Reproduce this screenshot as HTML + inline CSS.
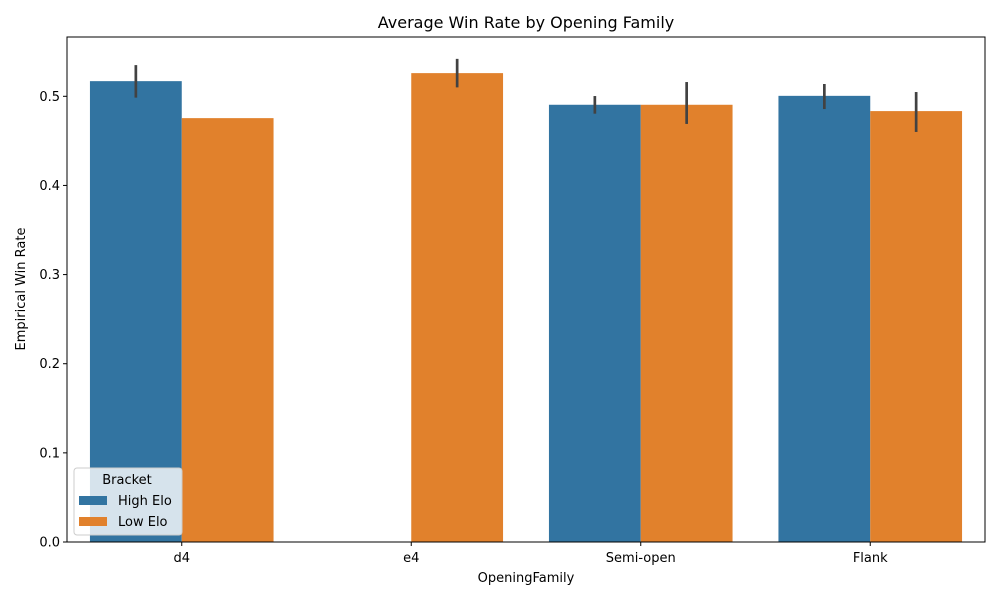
<!DOCTYPE html>
<html><head><meta charset="utf-8"><style>
body{margin:0;background:#fff;}
svg text{font-family:"DejaVu Sans","Liberation Sans",sans-serif;}
</style></head><body>
<svg id="chart" width="1000" height="600" xmlns="http://www.w3.org/2000/svg">
<rect width="1000" height="600" fill="#fff"/>
<g id="plot"></g>
<text x="526" y="28" font-size="16" text-anchor="middle" fill="#000">Average Win Rate by Opening Family</text>
<text x="526" y="582" font-size="13" text-anchor="middle" fill="#000">OpeningFamily</text>
<text x="25" y="289" font-size="13" text-anchor="middle" fill="#000" transform="rotate(-90 25 289)">Empirical Win Rate</text>
</svg>
<script>
const categories = ["d4","e4","Semi-open","Flank"];
const seriesNames = ["High Elo","Low Elo"];
const highVals = [0.517, null, 0.4905, 0.5005];
const lowVals  = [0.4755, 0.526, 0.4905, 0.4834];
const highLo = [0.4985, null, 0.4805, 0.4857];
const highHi = [0.535, null, 0.5003, 0.5138];
const lowLo  = [null, 0.510, 0.469, 0.460];
const lowHi  = [null, 0.542, 0.516, 0.5048];
const yTicks = [0.0,0.1,0.2,0.3,0.4,0.5];
const yTickLabels = ["0.0","0.1","0.2","0.3","0.4","0.5"];

const L=67, R=985, T=37, B=542;
const yScale = v => B - v*891.4;
const band = (R-L)/categories.length;
const xCenter = i => L + band*(i+0.5);
const barW = band*0.8/2;
const colors = ["#3274a1","#e1812c"];
const NS="http://www.w3.org/2000/svg";
const g=document.getElementById('plot');
function mk(tag,attrs){const e=document.createElementNS(NS,tag);for(const k in attrs)e.setAttribute(k,attrs[k]);g.appendChild(e);return e;}

const series=[[highVals,highLo,highHi],[lowVals,lowLo,lowHi]];
series.forEach((s,si)=>{
  s[0].forEach((v,i)=>{
    if(v==null) return;
    const x0 = xCenter(i) - barW + si*barW;
    const r=mk('rect',{x:x0,y:yScale(v),width:barW,height:B-yScale(v),fill:colors[si]});
    
    
  });
});
series.forEach((s,si)=>{
  s[0].forEach((v,i)=>{
    if(s[1][i]==null) return;
    const cx = xCenter(i) - barW/2 + si*barW;
    const l=mk('line',{x1:cx,x2:cx,y1:yScale(s[1][i]),y2:yScale(s[2][i]),stroke:'#424242','stroke-width':2.7});
    
    
  });
});
const fr=mk('rect',{x:L,y:T,width:R-L,height:B-T,fill:'none',stroke:'#000','stroke-width':1});


yTicks.forEach((t,i)=>{
  const y=yScale(t);
  const tk=mk('line',{x1:L-4,x2:L,y1:y,y2:y,stroke:'#000'});
  
  
  const tx=mk('text',{x:L-7,y:y+4.5,'font-size':13,'text-anchor':'end',fill:'#000'});
  tx.textContent=yTickLabels[i];
  
  
});
categories.forEach((c,i)=>{
  const x=xCenter(i);
  const tk=mk('line',{x1:x,x2:x,y1:B,y2:B+4,stroke:'#000'});
  
  
  const tx=mk('text',{x:x,y:B+20,'font-size':13,'text-anchor':'middle',fill:'#000'});
  tx.textContent=c;
  
  
});
const lg=mk('rect',{x:74,y:468,width:108,height:67,rx:3,fill:'rgba(255,255,255,0.8)',stroke:'#ccc'});


const lt=mk('text',{x:127,y:484,'font-size':13,'text-anchor':'middle',fill:'#000'});
lt.textContent='Bracket';


seriesNames.forEach((n,i)=>{
  const y=500+i*21;
  const sw=mk('rect',{x:79,y:y-4,width:28,height:9,fill:colors[i]});
  
  
  const t=mk('text',{x:118,y:y+5,'font-size':13,fill:'#000'});
  t.textContent=n;
  
  
});
</script>
</body></html>
